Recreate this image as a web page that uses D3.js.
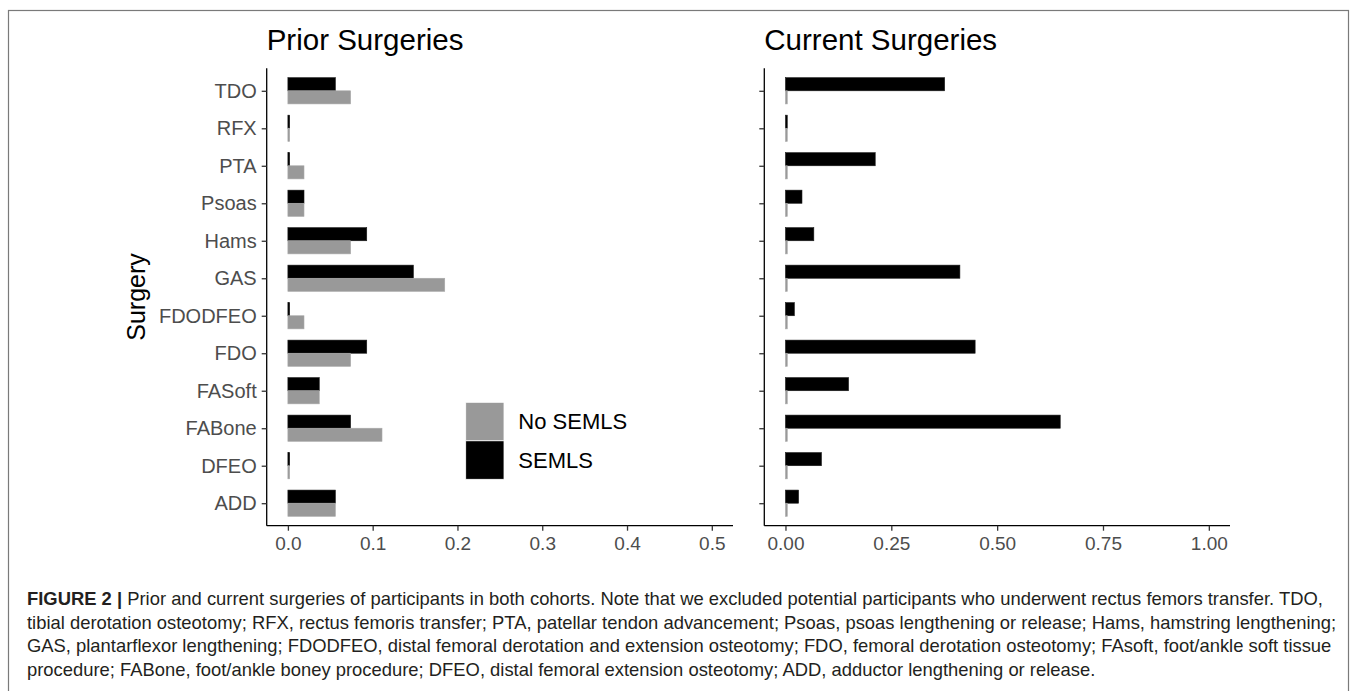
<!DOCTYPE html>
<html>
<head>
<meta charset="utf-8">
<script src="https://cdn.jsdelivr.net/npm/d3@7"></script>
<style>
    body { margin: 0; background: #fff; }
    svg { display: block; font-family: "Liberation Sans", Arial, sans-serif; }
</style>
</head>
<body>
<div id="chart"></div>
<script>
// categories, top to bottom
const surgeries = ['TDO', 'RFX', 'PTA', 'Psoas', 'Hams', 'GAS', 'FDODFEO', 'FDO', 'FASoft', 'FABone', 'DFEO', 'ADD'];
const groups = ['SEMLS', 'No SEMLS'];

// proportion of participants, prior surgeries
const priorSemls   = [0.056, 0, 0, 0.019, 0.093, 0.148, 0, 0.093, 0.037, 0.074, 0, 0.056];
const priorNoSemls = [0.074, 0, 0.019, 0.019, 0.074, 0.185, 0.019, 0.074, 0.037, 0.111, 0, 0.056];

// proportion of participants, current surgeries
const currentSemls   = [0.376, 0, 0.212, 0.039, 0.067, 0.412, 0.021, 0.448, 0.149, 0.649, 0.085, 0.031];
const currentNoSemls = [0, 0, 0, 0, 0, 0, 0, 0, 0, 0, 0, 0];

const priorTicks = [0, 0.1, 0.2, 0.3, 0.4, 0.5];
const currentTicks = [0, 0.25, 0.5, 0.75, 1];

const groupColors = { 'SEMLS': '#000000', 'No SEMLS': '#999999' };

const captionLines = [
    [['FIGURE 2 | ', true], ['Prior and current surgeries of participants in both cohorts. Note that we excluded potential participants who underwent rectus femors transfer. TDO,', false]],
    [['tibial derotation osteotomy; RFX, rectus femoris transfer; PTA, patellar tendon advancement; Psoas, psoas lengthening or release; Hams, hamstring lengthening;', false]],
    [['GAS, plantarflexor lengthening; FDODFEO, distal femoral derotation and extension osteotomy; FDO, femoral derotation osteotomy; FAsoft, foot/ankle soft tissue', false]],
    [['procedure; FABone, foot/ankle boney procedure; DFEO, distal femoral extension osteotomy; ADD, adductor lengthening or release.', false]]
];

const width = 1357;
const height = 691;

const svg = d3.select('#chart')
    .append('svg')
    .attr('width', width)
    .attr('height', height);

// frame round the figure (bottom edge runs off the page)
svg.append('rect')
    .attr('x', 8.5).attr('y', 10.5)
    .attr('width', 1340).attr('height', 700)
    .attr('fill', 'none')
    .attr('stroke', '#7a7a7a')
    .attr('stroke-width', 1.2);

const plotTop = 68.3;
const plotBottom = 525.7;

const y = d3.scalePoint()
    .domain(surgeries)
    .range([plotTop, plotBottom])
    .padding(0.6);

const step = y.step();

const yInner = d3.scaleBand()
    .domain(groups)
    .range([-0.35 * step, 0.35 * step]);

function drawPanel(opts) {
    const { left, right, domain, ticks, fmt, title, semls, noSemls, showLabels } = opts;

    const x = d3.scaleLinear().domain(domain).range([left, right]);
    const g = svg.append('g');

    const rows = [];
    surgeries.forEach((s, i) => {
        rows.push({ surgery: s, group: 'SEMLS', value: semls[i] });
        rows.push({ surgery: s, group: 'No SEMLS', value: noSemls[i] });
    });

    g.selectAll('rect.bar')
        .data(rows)
        .enter()
        .append('rect')
        .attr('class', 'bar')
        .attr('x', x(0))
        .attr('y', d => y(d.surgery) + yInner(d.group))
        .attr('width', d => Math.max(x(d.value) - x(0), 1.8))
        .attr('height', yInner.bandwidth())
        .attr('fill', d => groupColors[d.group])
        .attr('stroke', d => d.group === 'SEMLS' ? '#1a1a1a' : '#aaaaaa')
        .attr('stroke-width', 0.6);

    const yAxis = g.append('g')
        .attr('transform', `translate(${left},0)`)
        .call(d3.axisLeft(y).tickSize(5).tickPadding(5).tickFormat(showLabels ? d => d : ''));

    const xAxis = g.append('g')
        .attr('transform', `translate(0,${plotBottom})`)
        .call(d3.axisBottom(x).tickValues(ticks).tickSize(5).tickPadding(6).tickFormat(d3.format(fmt)));

    [yAxis, xAxis].forEach(ax => {
        ax.select('.domain').attr('stroke', '#000').attr('stroke-width', 1.3);
        ax.selectAll('.tick line').attr('stroke', '#333').attr('stroke-width', 1.3);
        ax.selectAll('.tick text')
            .attr('fill', '#4d4d4d')
            .style('font-size', '19px')
            .style('font-family', '"Liberation Sans", Arial, sans-serif');
    });
    yAxis.selectAll('.tick text').style('font-size', '20px');

    // put the domain lines flush, no outer ticks
    yAxis.select('.domain').attr('d', `M0,${plotTop}V${plotBottom}`);
    xAxis.select('.domain').attr('d', `M${left},0H${right}`);

    g.append('text')
        .attr('x', left)
        .attr('y', 50)
        .attr('fill', '#000')
        .style('font-size', '29.5px')
        .text(title);

    return x;
}

drawPanel({
    left: 266.7, right: 733, domain: [-0.025, 0.525],
    ticks: priorTicks, fmt: '.1f', title: 'Prior Surgeries',
    semls: priorSemls, noSemls: priorNoSemls, showLabels: true
});

drawPanel({
    left: 764.3, right: 1230, domain: [-0.05, 1.05],
    ticks: currentTicks, fmt: '.2f', title: 'Current Surgeries',
    semls: currentSemls, noSemls: currentNoSemls, showLabels: false
});

// y axis title
svg.append('text')
    .attr('transform', `translate(145,${(plotTop + plotBottom) / 2}) rotate(-90)`)
    .attr('text-anchor', 'middle')
    .attr('fill', '#000')
    .style('font-size', '25px')
    .text('Surgery');

// legend, No SEMLS on top
const legendKeys = ['No SEMLS', 'SEMLS'];
const legend = svg.append('g').attr('transform', 'translate(465.7,402.3)');

legend.selectAll('rect')
    .data(legendKeys)
    .enter()
    .append('rect')
    .attr('x', 0)
    .attr('y', (d, i) => i * 38.5)
    .attr('width', 38.3)
    .attr('height', 38.5)
    .attr('fill', d => groupColors[d])
    .attr('stroke', '#fff')
    .attr('stroke-width', 0.8);

legend.selectAll('text')
    .data(legendKeys)
    .enter()
    .append('text')
    .attr('x', 52.6)
    .attr('y', (d, i) => 27 + i * 38.5)
    .attr('fill', '#000')
    .style('font-size', '22px')
    .text(d => d);

// caption
const caption = svg.append('g');
captionLines.forEach((parts, i) => {
    const t = caption.append('text')
        .attr('x', 27)
        .attr('y', 605 + i * 23.5)
        .attr('fill', '#231f20')
        .style('font-size', '18.4px');
    parts.forEach(([str, bold]) => {
        t.append('tspan')
            .attr('font-weight', bold ? 'bold' : 'normal')
            .text(str);
    });
});
</script>
</body>
</html>
